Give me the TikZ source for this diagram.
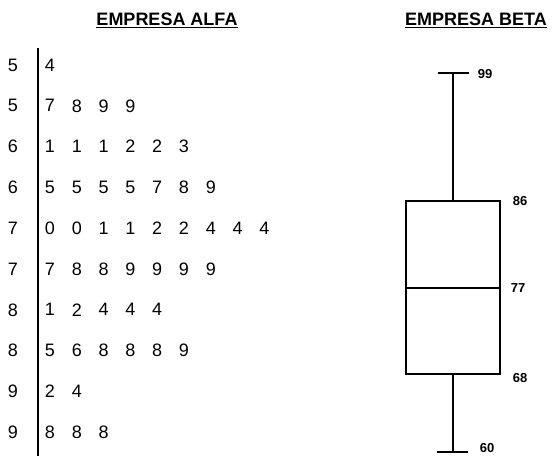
\documentclass[tikz,border=0pt]{standalone}
\usepackage{fontspec}
\setmainfont{Liberation Sans}
\begin{document}
\begin{tikzpicture}[x=1pt,y=-1pt,line width=1.2pt]
	\useasboundingbox (0,0) rectangle (557,456);
	\tikzset{hoja/.style={font=\fontsize{18}{18}\selectfont},
		valor/.style={font=\bfseries\fontsize{13}{13}\selectfont,anchor=west},
		titulo/.style={font=\bfseries\fontsize{18}{18}\selectfont}}
	\node[titulo] (alfa) at (167,20) {\underline{EMPRESA ALFA}};
	\node[titulo] (beta) at (476,20) {\underline{EMPRESA BETA}};
	% tallos
	\foreach \s [count=\i from 0] in {5,5,6,6,7,7,8,8,9,9}
		\node[hoja] (t\i) at (13,65+40.8*\i) {\s};
	\draw[line width=1.5pt] (38,48) -- (38,456);
	% hojas
	\foreach \fila [count=\i from 0] in {{4},{7,8,9,9},{1,1,1,2,2,3},{5,5,5,5,7,8,9},
		{0,0,1,1,2,2,4,4,4},{7,8,8,9,9,9,9},{1,2,4,4,4},{5,6,8,8,8,9},{2,4},{8,8,8}}
		\foreach \d [count=\j from 0] in \fila
			\node[hoja] (h\i-\j) at (50+26.8*\j,65+40.8*\i) {\d};
	% diagrama de caja
	\coordinate (max) at (453,73);
	\coordinate (q3) at (453,201);
	\coordinate (q1) at (453,374);
	\coordinate (min) at (453,452);
	\draw ([xshift=-15pt]max) -- ([xshift=16pt]max);
	\draw (max) -- (q3);
	\draw (406,201) rectangle (500,374);
	\draw (406,288) -- (500,288);
	\draw (q1) -- (min);
	\draw ([xshift=-16pt]min) -- ([xshift=15pt]min);
	\node[valor] (v99) at (474,74) {99};
	\node[valor] (v86) at (509,201) {86};
	\node[valor] (v77) at (507,288) {77};
	\node[valor] (v68) at (509,378) {68};
	\node[valor] (v60) at (476,448) {60};
\end{tikzpicture}
\end{document}
